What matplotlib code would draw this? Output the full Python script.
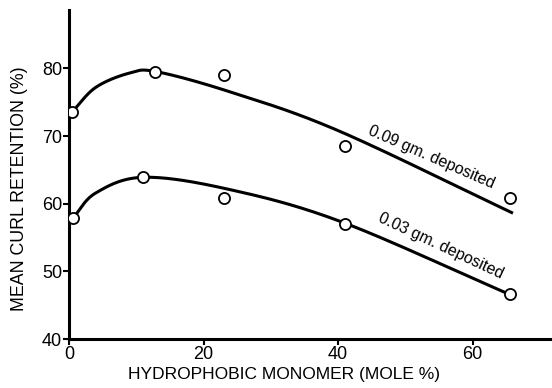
import numpy as np
import matplotlib
matplotlib.use("Agg")
import matplotlib.pyplot as plt

# Measured points
x_09 = [0.5, 12.8, 23.0, 41.0, 65.5]
y_09 = [73.6, 79.4, 79.0, 68.5, 60.9]
x_03 = [0.6, 11.0, 23.1, 41.1, 65.5]
y_03 = [57.9, 63.9, 60.9, 57.0, 46.6]

# Hand-drawn trend curves
cx_09 = [0.5, 4.0, 9.0, 13.0, 24.0, 40.0, 66.0]
cy_09 = [73.6, 77.2, 79.3, 79.5, 76.5, 70.8, 58.6]
cx_03 = [0.6, 4.0, 11.0, 23.4, 40.3, 65.5]
cy_03 = [57.9, 61.6, 63.9, 62.2, 57.4, 46.6]

x_ticks = [0, 20, 40, 60]
y_ticks = [40, 50, 60, 70, 80]
label_09 = "0.09 gm. deposited"
label_03 = "0.03 gm. deposited"


def catmull_rom(xs, ys, n=30):
    p = np.column_stack([xs, ys]).astype(float)
    p = np.vstack([2 * p[0] - p[1], p, 2 * p[-1] - p[-2]])
    out = []
    for i in range(1, len(p) - 2):
        p0, p1, p2, p3 = p[i - 1], p[i], p[i + 1], p[i + 2]
        t = np.linspace(0, 1, n, endpoint=False)[:, None]
        seg = 0.5 * ((2 * p1) + (-p0 + p2) * t + (2 * p0 - 5 * p1 + 4 * p2 - p3) * t ** 2
                     + (-p0 + 3 * p1 - 3 * p2 + p3) * t ** 3)
        out.append(seg)
    out.append(p[-2][None, :])
    a = np.vstack(out)
    return a[:, 0], a[:, 1]


plt.rcParams['font.family'] = ['Liberation Sans', 'DejaVu Sans']
fig = plt.figure(figsize=(5.52, 3.88), dpi=100)
ax = fig.add_axes([0.125, 0.126, 0.875, 0.848])

for cx, cy in [(cx_09, cy_09), (cx_03, cy_03)]:
    sx, sy = catmull_rom(cx, cy)
    ax.plot(sx, sy, color='black', lw=2.2, solid_capstyle='butt', zorder=2)

for xs, ys in [(x_09, y_09), (x_03, y_03)]:
    ax.plot(xs, ys, 'o', ms=8, mfc='white', mec='black', mew=1.3, zorder=3)

ax.set_xlim(0, 71.8)
ax.set_ylim(40, 88.6)
ax.set_xticks(x_ticks)
ax.set_yticks(y_ticks)
ax.tick_params(labelsize=13, length=4, width=1.5, direction='out', pad=1)
for s in ['top', 'right']:
    ax.spines[s].set_visible(False)
for s in ['left', 'bottom']:
    ax.spines[s].set_linewidth(2.2)

ax.text(53.8, 66.8, label_09, rotation=-23.5, rotation_mode='anchor',
        ha='center', va='center', fontsize=11.5)
ax.text(55.3, 53.7, label_03, rotation=-25, rotation_mode='anchor',
        ha='center', va='center', fontsize=11.5)

fig.text(0.036, 0.513, "MEAN CURL RETENTION (%)", rotation=90, ha='center', va='center',
         fontsize=12.8)
fig.text(0.515, 0.035, "HYDROPHOBIC MONOMER (MOLE %)", ha='center', va='center',
         fontsize=12.5)

fig.savefig("out.png", dpi=100)
